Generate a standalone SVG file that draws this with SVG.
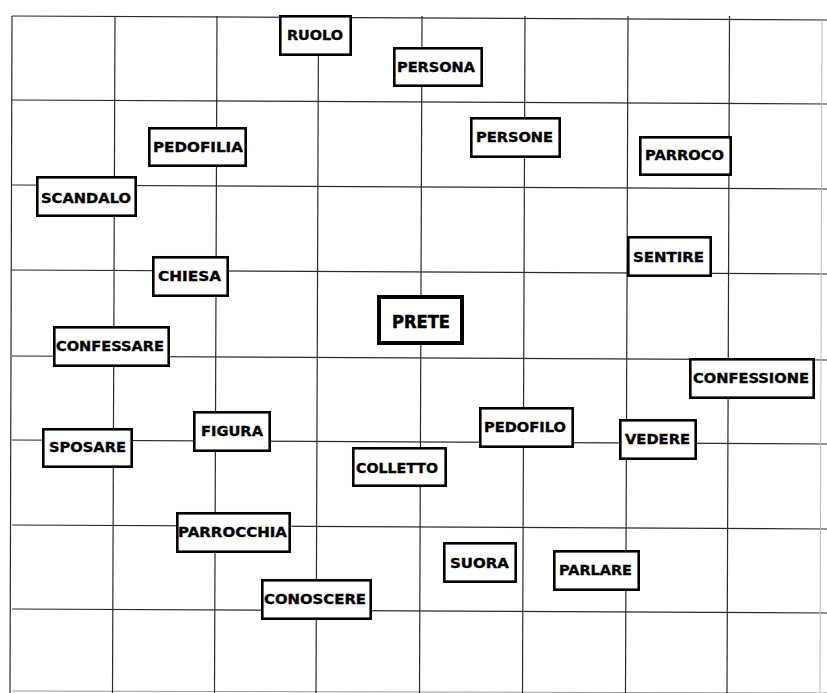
<svg xmlns="http://www.w3.org/2000/svg" width="827" height="693" viewBox="0 0 827 693">
<style>
.grid line{stroke:#2a2a2a;stroke-width:1.2;}
.node rect{fill:#fff;stroke:#000;stroke-width:2.6;}
.node text{font-family:"DejaVu Sans","Liberation Sans",sans-serif;font-weight:bold;font-size:13.5px;fill:#000;stroke:#000;stroke-width:0.35;text-anchor:middle;}
#n-prete rect{stroke-width:4;}
#n-prete text{font-size:17px;stroke-width:0.5;}
</style>
<rect width="827" height="693" fill="#fff"/>
<g class="grid" id="grid">
<line x1="12" y1="16" x2="827" y2="20"/>
<line x1="12" y1="100" x2="827" y2="104"/>
<line x1="12" y1="185" x2="827" y2="189"/>
<line x1="12" y1="270" x2="827" y2="274"/>
<line x1="12" y1="356" x2="827" y2="360"/>
<line x1="12" y1="440" x2="827" y2="444"/>
<line x1="12" y1="525" x2="827" y2="529"/>
<line x1="12" y1="609" x2="827" y2="613"/>
<line x1="12" y1="691" x2="827" y2="693" style="stroke:#999;stroke-width:1"/>
<line x1="12" y1="16" x2="10" y2="693"/>
<line x1="115" y1="16" x2="112.5" y2="693"/>
<line x1="217" y1="16" x2="214.5" y2="693"/>
<line x1="318.5" y1="16" x2="316" y2="693"/>
<line x1="422" y1="16" x2="419.5" y2="693"/>
<line x1="525" y1="16" x2="522.5" y2="693"/>
<line x1="628" y1="16" x2="625.5" y2="693"/>
<line x1="729.5" y1="16" x2="727" y2="693"/>
<line x1="822" y1="20" x2="820" y2="693" style="stroke:#bbb;stroke-width:1"/>
</g>
<g id="n-ruolo" class="node"><rect x="280.3" y="16.3" width="70.4" height="38.4"/><text x="315" y="40" textLength="56" lengthAdjust="spacingAndGlyphs">RUOLO</text></g>
<g id="n-persona" class="node"><rect x="394.3" y="48.3" width="87.4" height="37.4"/><text x="436" y="72" textLength="78" lengthAdjust="spacingAndGlyphs">PERSONA</text></g>
<g id="n-pedofilia" class="node"><rect x="149.3" y="128.3" width="96.4" height="37.4"/><text x="198" y="152" textLength="90" lengthAdjust="spacingAndGlyphs">PEDOFILIA</text></g>
<g id="n-scandalo" class="node"><rect x="37.3" y="177.3" width="98.4" height="38.4"/><text x="86" y="203" textLength="90" lengthAdjust="spacingAndGlyphs">SCANDALO</text></g>
<g id="n-persone" class="node"><rect x="471.3" y="118.3" width="88.4" height="38.4"/><text x="514.5" y="142" textLength="77" lengthAdjust="spacingAndGlyphs">PERSONE</text></g>
<g id="n-parroco" class="node"><rect x="640.3" y="137.3" width="90.4" height="37.4"/><text x="684.5" y="160" textLength="79" lengthAdjust="spacingAndGlyphs">PARROCO</text></g>
<g id="n-chiesa" class="node"><rect x="153.3" y="257.3" width="74.4" height="38.4"/><text x="189.5" y="281" textLength="63" lengthAdjust="spacingAndGlyphs">CHIESA</text></g>
<g id="n-prete" class="node"><rect x="379" y="297" width="83" height="46"/><text x="421" y="328.2" textLength="58" lengthAdjust="spacingAndGlyphs">PRETE</text></g>
<g id="n-sentire" class="node"><rect x="628.3" y="237.3" width="82.4" height="38.4"/><text x="668.5" y="262" textLength="71" lengthAdjust="spacingAndGlyphs">SENTIRE</text></g>
<g id="n-confessare" class="node"><rect x="54.3" y="327.3" width="114.4" height="38.4"/><text x="110" y="351" textLength="108" lengthAdjust="spacingAndGlyphs">CONFESSARE</text></g>
<g id="n-confessione" class="node"><rect x="690.3" y="359.3" width="123.4" height="38.4"/><text x="751" y="383" textLength="116" lengthAdjust="spacingAndGlyphs">CONFESSIONE</text></g>
<g id="n-sposare" class="node"><rect x="43.3" y="429.3" width="88.4" height="37.4"/><text x="87.5" y="452" textLength="77" lengthAdjust="spacingAndGlyphs">SPOSARE</text></g>
<g id="n-figura" class="node"><rect x="194.3" y="412.3" width="75.4" height="38.4"/><text x="232" y="436" textLength="62" lengthAdjust="spacingAndGlyphs">FIGURA</text></g>
<g id="n-pedofilo" class="node"><rect x="480.3" y="408.3" width="92.4" height="38.4"/><text x="525" y="432" textLength="82" lengthAdjust="spacingAndGlyphs">PEDOFILO</text></g>
<g id="n-vedere" class="node"><rect x="620.3" y="420.3" width="75.4" height="38.4"/><text x="657.5" y="444" textLength="65" lengthAdjust="spacingAndGlyphs">VEDERE</text></g>
<g id="n-colletto" class="node"><rect x="353.3" y="448.3" width="92.4" height="37.4"/><text x="397" y="473" textLength="82" lengthAdjust="spacingAndGlyphs">COLLETTO</text></g>
<g id="n-parrocchia" class="node"><rect x="177.3" y="513.3" width="112.4" height="38.4"/><text x="232.5" y="537" textLength="109" lengthAdjust="spacingAndGlyphs">PARROCCHIA</text></g>
<g id="n-conoscere" class="node"><rect x="262.3" y="580.3" width="108.4" height="38.4"/><text x="315" y="604" textLength="102" lengthAdjust="spacingAndGlyphs">CONOSCERE</text></g>
<g id="n-suora" class="node"><rect x="444.3" y="543.3" width="71.4" height="38.4"/><text x="479.5" y="568" textLength="59" lengthAdjust="spacingAndGlyphs">SUORA</text></g>
<g id="n-parlare" class="node"><rect x="554.3" y="551.3" width="84.4" height="38.4"/><text x="595.5" y="575" textLength="73" lengthAdjust="spacingAndGlyphs">PARLARE</text></g>
</svg>
